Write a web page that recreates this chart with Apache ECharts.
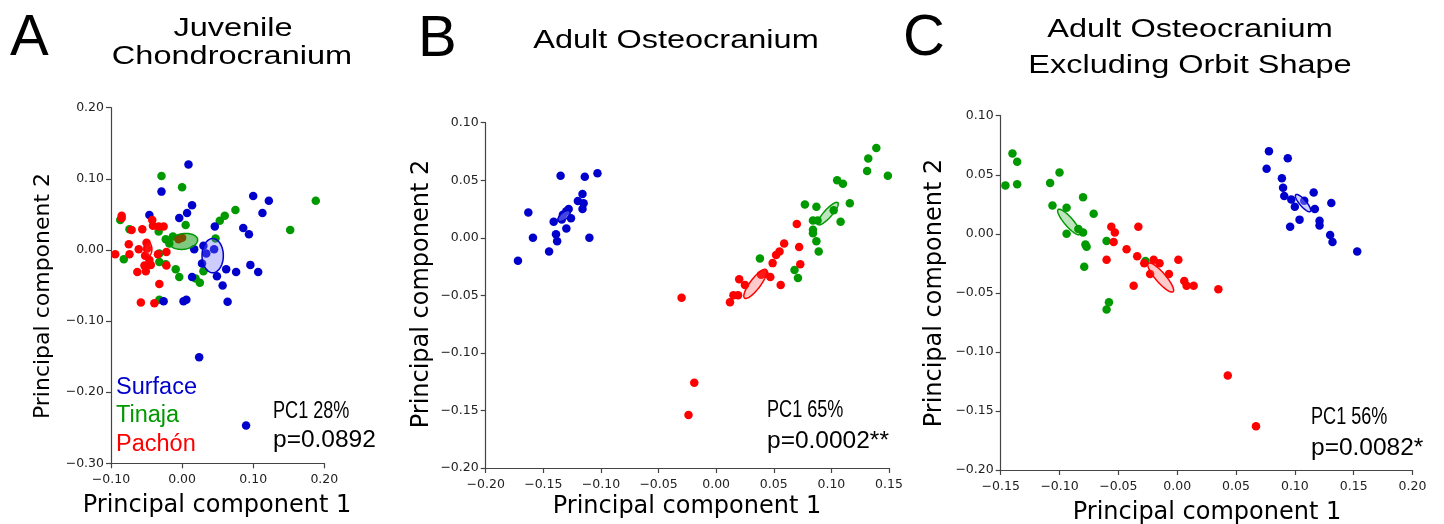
<!DOCTYPE html>
<html>
<head>
<meta charset="utf-8">
<script src="https://cdn.jsdelivr.net/npm/echarts@6/dist/echarts.min.js"></script>
<style>
html,body{margin:0;padding:0;background:#fff;}
#chart{width:1444px;height:524px;}
</style>
</head>
<body>
<div id="chart"></div>
<script>
// ---------- DATA ----------
const groupNames = ['Surface', 'Tinaja', 'Pachón'];
const panelLetters = ['A', 'B', 'C'];
const panelTitles = [['Juvenile', 'Chondrocranium'], ['Adult Osteocranium'], ['Adult Osteocranium', 'Excluding Orbit Shape']];
const pcTexts = [['PC1 28%', 'p=0.0892'], ['PC1 65%', 'p=0.0002**'], ['PC1 56%', 'p=0.0082*']];
const xAxisName = 'Principal component 1';
const yAxisName = 'Principal component 2';

// axis ranges [min, max, interval]
const xRanges = [[-0.10, 0.20, 0.10], [-0.20, 0.15, 0.05], [-0.15, 0.20, 0.05]];
const yRanges = [[-0.30, 0.20, 0.10], [-0.20, 0.10, 0.05], [-0.20, 0.10, 0.05]];

// Panel A: Juvenile chondrocranium
const juvSurface = [[0.009,0.120],[-0.029,0.082],[0.014,0.063],[0.007,0.052],[-0.004,0.045],[-0.046,0.049],[0.100,0.076],[0.122,0.069],[0.113,0.052],[0.086,0.031],[0.094,0.022],[0.046,0.033],[0.030,0.006],[0.017,0.001],[0.045,0.001],[0.034,-0.005],[0.028,-0.019],[0.049,-0.037],[0.062,-0.027],[0.076,-0.031],[0.096,-0.021],[0.107,-0.031],[0.057,-0.050],[0.064,-0.073],[0.014,-0.038],[0.006,-0.070],[0.002,-0.072],[-0.026,-0.072],[0.024,-0.151],[0.090,-0.247]];
const juvTinaja = [[-0.029,0.104],[0.000,0.088],[0.075,0.056],[0.060,0.048],[0.053,0.041],[0.188,0.069],[0.152,0.028],[-0.087,0.042],[-0.074,0.029],[-0.033,0.026],[0.005,0.035],[-0.082,-0.013],[-0.023,0.015],[-0.018,0.009],[0.047,0.016],[-0.032,-0.017],[-0.023,-0.020],[-0.009,-0.027],[-0.004,-0.038],[0.019,-0.040],[0.025,-0.046],[0.030,-0.030],[-0.032,-0.070],[-0.013,0.019],[-0.032,-0.005]];
const juvPachon = [[-0.085,0.048],[-0.085,0.045],[-0.071,0.028],[-0.056,0.029],[-0.042,0.042],[-0.041,0.034],[-0.033,0.033],[-0.026,0.033],[-0.075,0.008],[-0.074,-0.006],[-0.061,0.001],[-0.050,0.010],[-0.049,0.002],[-0.052,-0.008],[-0.094,-0.006],[-0.053,-0.022],[-0.063,-0.031],[-0.051,-0.030],[-0.044,-0.021],[-0.034,-0.006],[-0.022,-0.003],[-0.022,-0.022],[-0.032,-0.048],[-0.058,-0.074],[-0.039,-0.075],[-0.046,-0.014],[0.000,0.017],[-0.005,0.015]];
// ellipses: [cx, cy, semiMajor, semiMinor, angleDeg, groupIndex]
const juvEllipses = [[0.043,-0.008,0.015,0.024,0,0],[0.002,0.012,0.020,0.011,8,1],[-0.048,0.001,0.0055,0.010,0,2]];

// Panel B: Adult osteocranium
const adultSurface = [[-0.172,-0.020],[-0.163,0.022],[-0.159,0.000],[-0.145,-0.012],[-0.141,0.014],[-0.139,0.003],[-0.138,-0.003],[-0.135,0.054],[-0.130,0.008],[-0.133,0.020],[-0.130,0.023],[-0.128,0.025],[-0.126,0.017],[-0.120,0.032],[-0.116,0.038],[-0.115,0.030],[-0.116,0.025],[-0.114,0.053],[-0.103,0.056],[-0.110,0.000],[-0.134,0.016]];
const adultTinaja = [[0.038,-0.018],[0.068,-0.028],[0.071,-0.035],[0.077,0.029],[0.087,0.027],[0.084,0.015],[0.088,0.015],[0.084,0.007],[0.084,0.004],[0.087,-0.003],[0.089,-0.012],[0.102,0.024],[0.108,0.014],[0.116,0.030],[0.105,0.050],[0.110,0.047],[0.131,0.058],[0.132,0.069],[0.139,0.078],[0.149,0.054]];
const adultPachon = [[-0.030,-0.052],[-0.019,-0.126],[-0.024,-0.154],[0.012,-0.056],[0.015,-0.050],[0.019,-0.050],[0.020,-0.036],[0.025,-0.041],[0.039,-0.032],[0.042,-0.031],[0.047,-0.034],[0.049,-0.022],[0.052,-0.015],[0.055,-0.012],[0.059,-0.005],[0.056,-0.041],[0.070,0.012],[0.072,-0.008],[0.073,-0.023]];
const adultEllipses = [[-0.132,0.019,0.0065,0.003,40,0],[0.097,0.021,0.0128,0.0035,48,1],[0.034,-0.040,0.0155,0.0045,53,2]];

// Panel C: Adult osteocranium excluding orbit shape
const orbitSurface = [[0.078,0.070],[0.076,0.055],[0.094,0.064],[0.089,0.047],[0.090,0.039],[0.091,0.032],[0.097,0.029],[0.100,0.023],[0.108,0.028],[0.116,0.035],[0.117,0.021],[0.131,0.026],[0.104,0.012],[0.096,0.006],[0.121,0.011],[0.121,0.007],[0.130,-0.001],[0.132,-0.007],[0.153,-0.015]];
const orbitTinaja = [[-0.146,0.041],[-0.140,0.068],[-0.136,0.061],[-0.136,0.042],[-0.108,0.043],[-0.100,0.052],[-0.106,0.024],[-0.094,0.022],[-0.094,0.000],[-0.084,0.004],[-0.080,0.031],[-0.080,0.001],[-0.078,-0.009],[-0.077,-0.011],[-0.071,0.017],[-0.079,-0.028],[-0.060,-0.006],[-0.058,-0.058],[-0.060,-0.064],[-0.027,-0.023]];
const orbitPachon = [[-0.056,0.006],[-0.053,0.001],[-0.054,-0.007],[-0.060,-0.022],[-0.033,0.006],[-0.043,-0.013],[-0.034,-0.019],[-0.028,-0.025],[-0.020,-0.022],[-0.015,-0.025],[-0.023,-0.034],[-0.007,-0.034],[-0.037,-0.044],[0.001,-0.022],[0.006,-0.040],[0.008,-0.044],[0.014,-0.044],[0.035,-0.047],[0.043,-0.120],[0.067,-0.163]];
const orbitEllipses = [[0.107,0.026,0.0094,0.0028,-49,0],[-0.092,0.010,0.014,0.0037,-49,1],[-0.014,-0.037,0.016,0.0042,-49,2]];

// ---------- STYLE ----------
const groupColors = ['#0000CC', '#009900', '#FF0000'];
const ellipseFills = [
  ['rgba(110,110,255,0.35)', 'rgba(0,150,0,0.5)', 'rgba(255,60,60,0.25)'],
  ['rgba(150,150,255,0.45)', 'rgba(0,150,0,0.25)', 'rgba(255,80,80,0.3)'],
  ['rgba(150,150,255,0.45)', 'rgba(0,150,0,0.25)', 'rgba(255,80,80,0.3)']
];
const grids = [
  {left: 111, top: 107.7, width: 213.3, height: 355.6},
  {left: 485.7, top: 122.7, width: 403.3, height: 345.3},
  {left: 1000.7, top: 115.7, width: 411.8, height: 354.3}
];
const panelPoints = [
  [juvSurface, juvTinaja, juvPachon],
  [adultSurface, adultTinaja, adultPachon],
  [orbitSurface, orbitTinaja, orbitPachon]
];
const panelEllipses = [juvEllipses, adultEllipses, orbitEllipses];

const tickFont = 'DejaVu Sans';
const fmt = v => (Math.abs(v) < 1e-9 ? 0 : v).toFixed(2).replace('-', '\u2212');

function axisCommon(p, range, margin) {
  return {
    type: 'value', gridIndex: p, min: range[0], max: range[1], interval: range[2],
    axisLine: {show: true, onZero: false, lineStyle: {color: '#444', width: 1.2}},
    axisTick: {show: true, length: 5, lineStyle: {color: '#444', width: 1.2}},
    axisLabel: {fontFamily: tickFont, fontSize: 12.5, color: '#222', margin: margin, formatter: fmt},
    splitLine: {show: false}
  };
}

const xAxes = [], yAxes = [], series = [];
for (let p = 0; p < 3; p++) {
  xAxes.push(axisCommon(p, xRanges[p], 10));
  yAxes.push(axisCommon(p, yRanges[p], 7));
  // draw order: Tinaja, Surface, Pachón
  [1, 0, 2].forEach(g => {
    series.push({
      type: 'scatter', xAxisIndex: p, yAxisIndex: p, name: groupNames[g],
      data: panelPoints[p][g], symbol: 'circle', symbolSize: 8.5,
      itemStyle: {color: groupColors[g], opacity: 1}, silent: true, animation: false
    });
  });
  const fills = ellipseFills[p];
  series.push({
    type: 'custom', xAxisIndex: p, yAxisIndex: p, data: panelEllipses[p],
    encode: {x: 0, y: 1}, silent: true, animation: false, z: 5,
    renderItem: function (params, api) {
      const cx = api.value(0), cy = api.value(1), a = api.value(2), b = api.value(3);
      const ang = api.value(4) * Math.PI / 180, g = api.value(5);
      const pts = [];
      for (let i = 0; i < 72; i++) {
        const t = i / 72 * Math.PI * 2;
        const px = cx + a * Math.cos(t) * Math.cos(ang) - b * Math.sin(t) * Math.sin(ang);
        const py = cy + a * Math.cos(t) * Math.sin(ang) + b * Math.sin(t) * Math.cos(ang);
        pts.push(api.coord([px, py]));
      }
      return {type: 'polygon', shape: {points: pts},
        style: {fill: fills[g], stroke: groupColors[g], lineWidth: 1.5}};
    }
  });
}

// ---------- TEXT ----------
const graphic = [];
function txt(text, x, y, size, family, color, align, extra) {
  return Object.assign({
    type: 'text', x: x, y: y, silent: true,
    style: {text: text, fontSize: size, fontFamily: family, fill: color,
      textAlign: align, textVerticalAlign: 'middle', align: align, verticalAlign: 'middle'}
  }, extra || {});
}
const sans = 'Liberation Sans';
// panel letters
graphic.push(txt(panelLetters[0], 10, 39, 58, sans, '#000', 'left'));
graphic.push(txt(panelLetters[1], 418, 40, 58, sans, '#000', 'left'));
graphic.push(txt(panelLetters[2], 903, 39, 58, sans, '#000', 'left'));
// titles (wide rendering)
const titleScale = {scaleX: 1.25};
graphic.push(txt(panelTitles[0][0], 233, 29, 26, sans, '#000', 'center', titleScale));
graphic.push(txt(panelTitles[0][1], 232, 57, 26, sans, '#000', 'center', titleScale));
graphic.push(txt(panelTitles[1][0], 676, 41, 26, sans, '#000', 'center', titleScale));
graphic.push(txt(panelTitles[2][0], 1190, 30, 26, sans, '#000', 'center', titleScale));
graphic.push(txt(panelTitles[2][1], 1190, 66, 26, sans, '#000', 'center', titleScale));
// axis names
const nameFont = 'DejaVu Sans';
graphic.push(txt(xAxisName, 217, 506, 24, nameFont, '#000', 'center'));
graphic.push(txt(xAxisName, 687, 507, 24, nameFont, '#000', 'center'));
graphic.push(txt(xAxisName, 1207, 513, 24, nameFont, '#000', 'center'));
const rot = {rotation: Math.PI / 2};
graphic.push(txt(yAxisName, 43, 296, 22, nameFont, '#000', 'center', rot));
graphic.push(txt(yAxisName, 422, 294, 24, nameFont, '#000', 'center', rot));
graphic.push(txt(yAxisName, 935, 293, 24, nameFont, '#000', 'center', rot));
// legend in panel A
graphic.push(txt(groupNames[0], 116, 388, 23.5, sans, groupColors[0], 'left'));
graphic.push(txt(groupNames[1], 116, 416, 23.5, sans, groupColors[1], 'left'));
graphic.push(txt(groupNames[2], 116, 445, 23.5, sans, groupColors[2], 'left'));
// PC1 annotations
const pcPos = [[273, 412, 440], [767, 411, 441], [1311, 418, 448]];
for (let p = 0; p < 3; p++) {
  graphic.push(txt(pcTexts[p][0], pcPos[p][0], pcPos[p][1], 23.5, sans, '#000', 'left', {scaleX: 0.77}));
  graphic.push(txt(pcTexts[p][1], pcPos[p][0], pcPos[p][2], 24.5, sans, '#000', 'left'));
}

const chart = echarts.init(document.getElementById('chart'), null, {renderer: 'canvas'});
chart.setOption({
  animation: false,
  backgroundColor: '#fff',
  grid: grids,
  xAxis: xAxes,
  yAxis: yAxes,
  series: series,
  graphic: graphic
});
</script>
</body>
</html>
